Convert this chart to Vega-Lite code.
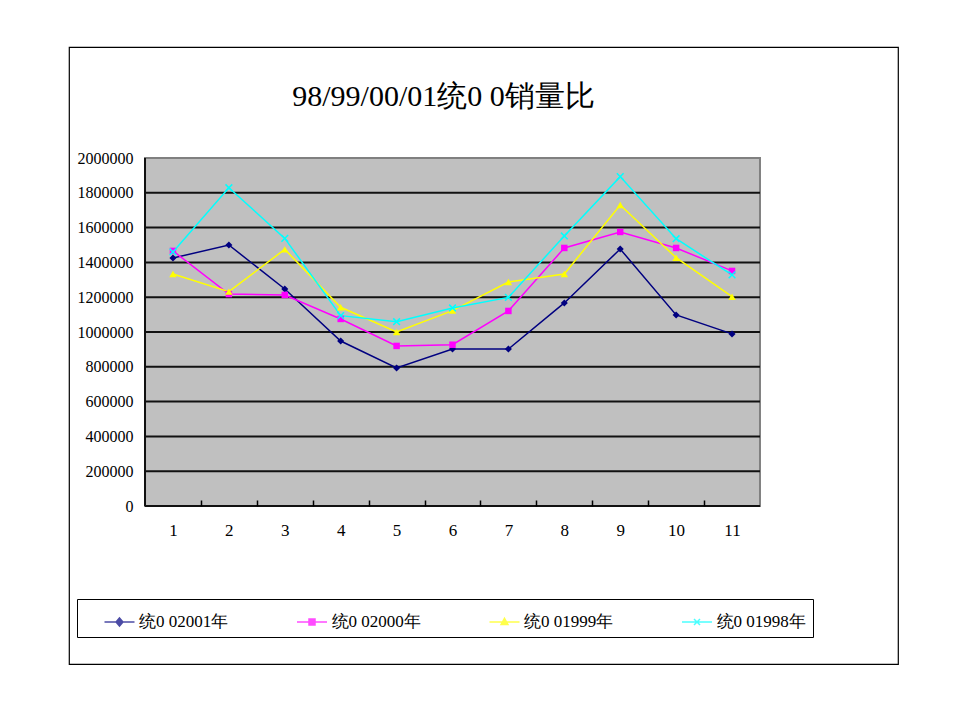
{
  "$schema": "https://vega.github.io/schema/vega-lite/v6.json",
  "width": 829,
  "height": 617,
  "autosize": {"type": "none"},
  "padding": {"left": 69, "top": 47, "right": 62, "bottom": 56},
  "background": "white",
  "config": {"view": {"stroke": "black", "strokeWidth": 1.2, "fill": "white"}},
  "title": {
    "text": "98/99/00/01统0 0销量比",
    "font": "Liberation Serif",
    "fontSize": 30,
    "fontWeight": "normal",
    "color": "black",
    "anchor": "middle",
    "baseline": "alphabetic",
    "offset": -89,
    "dx": -40
  },
  "data": {
    "values": [
      {"m": 1, "s": "统0 02001年", "v": 1425000},
      {"m": 2, "s": "统0 02001年", "v": 1500000},
      {"m": 3, "s": "统0 02001年", "v": 1247000},
      {"m": 4, "s": "统0 02001年", "v": 948000},
      {"m": 5, "s": "统0 02001年", "v": 793000},
      {"m": 6, "s": "统0 02001年", "v": 902000},
      {"m": 7, "s": "统0 02001年", "v": 902000},
      {"m": 8, "s": "统0 02001年", "v": 1167000},
      {"m": 9, "s": "统0 02001年", "v": 1477000},
      {"m": 10, "s": "统0 02001年", "v": 1098000},
      {"m": 11, "s": "统0 02001年", "v": 989000},
      {"m": 1, "s": "统0 02000年", "v": 1466000},
      {"m": 2, "s": "统0 02000年", "v": 1218000},
      {"m": 3, "s": "统0 02000年", "v": 1213000},
      {"m": 4, "s": "统0 02000年", "v": 1075000},
      {"m": 5, "s": "统0 02000年", "v": 920000},
      {"m": 6, "s": "统0 02000年", "v": 927000},
      {"m": 7, "s": "统0 02000年", "v": 1121000},
      {"m": 8, "s": "统0 02000年", "v": 1483000},
      {"m": 9, "s": "统0 02000年", "v": 1575000},
      {"m": 10, "s": "统0 02000年", "v": 1483000},
      {"m": 11, "s": "统0 02000年", "v": 1351000},
      {"m": 1, "s": "统0 01999年", "v": 1333000},
      {"m": 2, "s": "统0 01999年", "v": 1232000},
      {"m": 3, "s": "统0 01999年", "v": 1475000},
      {"m": 4, "s": "统0 01999年", "v": 1142000},
      {"m": 5, "s": "统0 01999年", "v": 1000000},
      {"m": 6, "s": "统0 01999年", "v": 1123000},
      {"m": 7, "s": "统0 01999年", "v": 1287000},
      {"m": 8, "s": "统0 01999年", "v": 1333000},
      {"m": 9, "s": "统0 01999年", "v": 1730000},
      {"m": 10, "s": "统0 01999年", "v": 1427000},
      {"m": 11, "s": "统0 01999年", "v": 1203000},
      {"m": 1, "s": "统0 01998年", "v": 1460000},
      {"m": 2, "s": "统0 01998年", "v": 1829000},
      {"m": 3, "s": "统0 01998年", "v": 1538000},
      {"m": 4, "s": "统0 01998年", "v": 1094000},
      {"m": 5, "s": "统0 01998年", "v": 1059000},
      {"m": 6, "s": "统0 01998年", "v": 1138000},
      {"m": 7, "s": "统0 01998年", "v": 1199000},
      {"m": 8, "s": "统0 01998年", "v": 1552000},
      {"m": 9, "s": "统0 01998年", "v": 1893000},
      {"m": 10, "s": "统0 01998年", "v": 1536000},
      {"m": 11, "s": "统0 01998年", "v": 1328000}
    ]
  },
  "resolve": {"axis": {"x": "independent"}},
  "layer": [
    {
      "data": {"values": [{}]},
      "mark": {"type": "rect", "fill": "#C0C0C0", "stroke": "#808080", "strokeWidth": 2},
      "encoding": {
        "x": {"datum": 0.5, "type": "quantitative", "axis": null},
        "x2": {"datum": 11.5},
        "y": {"datum": 0, "type": "quantitative"},
        "y2": {"datum": 2000000}
      }
    },
    {
      "data": {"values": [{"g": 0}, {"g": 200000}, {"g": 400000}, {"g": 600000}, {"g": 800000}, {"g": 1000000}, {"g": 1200000}, {"g": 1400000}, {"g": 1600000}, {"g": 1800000}]},
      "mark": {"type": "rule", "stroke": "#111111", "strokeWidth": 2},
      "encoding": {
        "x": {"datum": 0.5, "type": "quantitative", "axis": null},
        "x2": {"datum": 11.5},
        "y": {"field": "g", "type": "quantitative"}
      }
    },
    {
      "data": {"values": [{}]},
      "mark": {"type": "rule", "stroke": "#111111", "strokeWidth": 2},
      "encoding": {
        "x": {"datum": 0.5, "type": "quantitative", "axis": null},
        "y": {"datum": 0, "type": "quantitative"},
        "y2": {"datum": 2000000}
      }
    },
    {
      "mark": {"type": "line", "strokeWidth": 1.5},
      "encoding": {
        "x": {
          "field": "m", "type": "quantitative",
          "scale": {"domain": [-0.8596, 13.9687], "nice": false, "zero": false},
          "axis": {
            "orient": "bottom", "offset": -158, "values": [1, 2, 3, 4, 5, 6, 7, 8, 9, 10, 11],
            "ticks": false, "domain": false, "grid": false, "title": null,
            "labelFont": "Liberation Serif", "labelFontSize": 17, "labelColor": "black",
            "labelPadding": 24, "labelBaseline": "middle", "labelFlush": false
          }
        },
        "y": {
          "field": "v", "type": "quantitative",
          "scale": {"domain": [-908046, 2637931], "nice": false, "zero": false},
          "axis": {
            "orient": "left", "offset": -76,
            "values": [0, 200000, 400000, 600000, 800000, 1000000, 1200000, 1400000, 1600000, 1800000, 2000000],
            "format": "d", "ticks": false, "domain": false, "grid": false, "title": null,
            "labelFont": "Liberation Serif", "labelFontSize": 16, "labelColor": "black",
            "labelPadding": 12, "labelBaseline": "middle", "labelFlush": false
          }
        },
        "color": {
          "field": "s", "type": "nominal",
          "scale": {
            "domain": ["统0 02001年", "统0 02000年", "统0 01999年", "统0 01998年"],
            "range": ["#000080", "#FF00FF", "#FFFF00", "#00FFFF"]
          },
          "legend": {
            "title": null,
            "orient": "none", "legendX": 8, "legendY": 552,
            "direction": "horizontal", "columns": 4, "columnPadding": 47.5,
            "padding": 7, "strokeColor": "black", "fillColor": "white",
            "symbolSize": 900, "symbolOffset": 19.5, "labelOffset": 3.5,
            "symbolOpacity": 1, "symbolStrokeWidth": 1.5,
            "labelFont": "Liberation Serif", "labelFontSize": 17, "labelColor": "black",
            "labelBaseline": "middle"
          }
        }
      }
    },
    {
      "transform": [{"filter": "datum.s === '统0 02001年'"}],
      "mark": {"type": "point", "shape": "diamond", "filled": true, "color": "#000080", "size": 50, "opacity": 1},
      "encoding": {
        "x": {
          "field": "m", "type": "quantitative",
          "axis": {
            "orient": "bottom", "offset": -158, "values": [1.5, 2.5, 3.5, 4.5, 5.5, 6.5, 7.5, 8.5, 9.5, 10.5],
            "labels": false, "domain": false, "grid": false, "title": null,
            "ticks": true, "tickSize": -6, "tickColor": "black", "tickWidth": 1.5, "zindex": 1
          }
        },
        "y": {"field": "v", "type": "quantitative"}
      }
    },
    {
      "transform": [{"filter": "datum.s === '统0 02000年'"}],
      "mark": {"type": "point", "shape": "square", "filled": true, "color": "#FF00FF", "size": 42, "opacity": 1},
      "encoding": {
        "x": {"field": "m", "type": "quantitative", "axis": null},
        "y": {"field": "v", "type": "quantitative"}
      }
    },
    {
      "transform": [{"filter": "datum.s === '统0 01999年'"}],
      "mark": {"type": "point", "shape": "triangle-up", "filled": true, "color": "#FFFF00", "size": 55, "opacity": 1},
      "encoding": {
        "x": {"field": "m", "type": "quantitative", "axis": null},
        "y": {"field": "v", "type": "quantitative"}
      }
    },
    {
      "transform": [{"filter": "datum.s === '统0 01998年'"}],
      "mark": {"type": "point", "shape": "M-1,-1L1,1M-1,1L1,-1", "filled": false, "color": "#00FFFF", "size": 45, "strokeWidth": 1.5, "opacity": 1},
      "encoding": {
        "x": {"field": "m", "type": "quantitative", "axis": null},
        "y": {"field": "v", "type": "quantitative"}
      }
    },
    {
      "mark": {"type": "point", "filled": true, "size": 0},
      "encoding": {
        "x": {"field": "m", "type": "quantitative", "axis": null},
        "y": {"field": "v", "type": "quantitative"},
        "color": {"field": "s", "type": "nominal"},
        "shape": {
          "field": "s", "type": "nominal",
          "scale": {
            "domain": ["统0 02001年", "统0 02000年", "统0 01999年", "统0 01998年"],
            "range": [
              "M-1,0H1M0,-0.27L0.23,0L0,0.27L-0.23,0Z",
              "M-1,0H1M-0.2,-0.2H0.2V0.2H-0.2Z",
              "M-1,0H1M0,-0.25L0.23,0.17L-0.23,0.17Z",
              "M-1,0H1M-0.2,-0.2L0.2,0.2M-0.2,0.2L0.2,-0.2"
            ]
          }
        }
      }
    }
  ]
}
